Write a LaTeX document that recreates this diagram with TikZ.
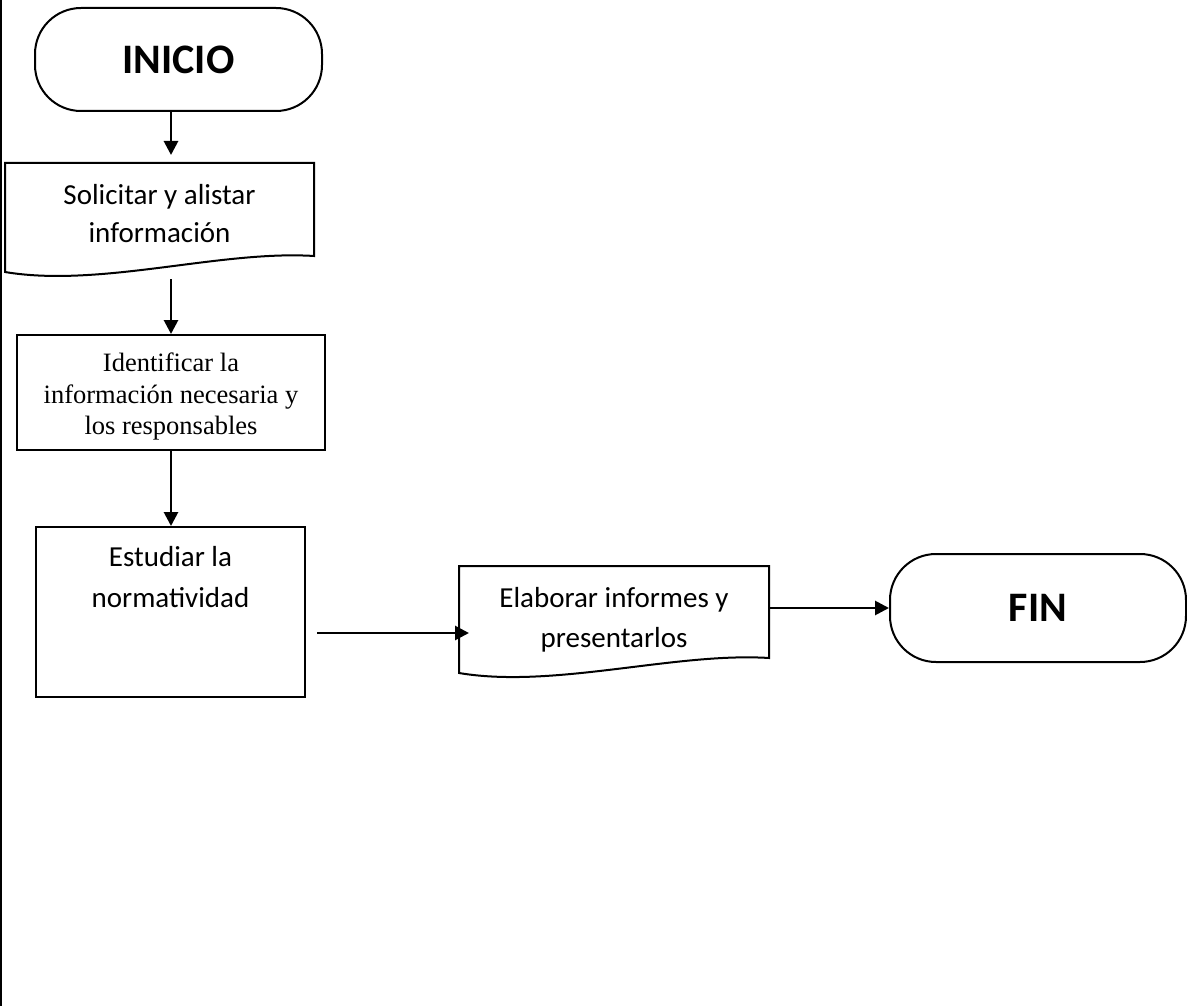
\documentclass[tikz,border=0pt]{standalone}
\usepackage{fontspec}
\setmainfont{Carlito}
\newfontfamily\romana{Liberation Serif}
\usetikzlibrary{positioning,arrows.meta}

\begin{document}
\begin{tikzpicture}[x=1pt,y=-1pt,
    caja/.style={draw,line width=2pt,align=center,font=\fontsize{29}{38}\selectfont},
    terminal/.style={caja,rounded corners=46pt,font=\fontsize{42}{48}\selectfont\bfseries},
    flecha/.style={-{Triangle[length=14pt,width=14pt]},line width=2.8pt}]
    \useasboundingbox (0,0) rectangle (1187,1006);
    \draw[line width=2.5pt] (1,0) -- (1,1006);

    \node[terminal,minimum width=287pt,minimum height=103pt] (inicio) at (178.5,59.5) {INICIO};
    \node[caja,draw=none,minimum width=309pt,minimum height=116pt] (solicitar) at (159.5,214) {Solicitar y alistar\\información};
    \draw[line width=2pt] (5,272) -- (5,163) -- (314,163) -- (314,256)
        .. controls (220,250) and (100,288) .. (5,272) -- cycle;
    \node[caja,minimum width=308pt,minimum height=115pt] (identificar) at (171,392.5) {\parbox[c][105pt][c]{300pt}{\centering\fontsize{26.5}{31.5}\romana\selectfont\vspace*{8pt}Identificar la\\información necesaria y\\los responsables}};
    \node[caja,minimum width=269pt,minimum height=170pt] (estudiar) at (170.5,612) {\parbox[c][150pt][t]{250pt}{\centering\fontsize{29}{41}\selectfont\vspace*{9pt}Estudiar la\\normatividad}};
    \node[caja,draw=none,minimum width=310pt,minimum height=107pt,font=\fontsize{29}{40}\selectfont] (elaborar) at (614,619.5) {Elaborar informes y\\presentarlos};
    \draw[line width=2pt] (459,673) -- (459,566) -- (769,566) -- (769,658)
        .. controls (675,652) and (554,689) .. (459,673) -- cycle;
    \node[terminal,minimum width=296pt,minimum height=108pt] (fin) at (1038,608) {FIN};

    \draw[flecha] ([xshift=-7.5pt]inicio.south) -- ([xshift=-7.5pt]inicio.south |- solicitar.north);
    \draw[flecha] ([yshift=-6pt]solicitar.south -| identificar.north) -- (identificar.north);
    \draw[flecha] (identificar.south) -- (identificar.south |- estudiar.north);
    \draw[flecha] ([xshift=11pt,yshift=-21pt]estudiar.east) -- ([xshift=11pt,yshift=-21pt]estudiar.east -| elaborar.west);
    \draw[flecha] (elaborar.east |- fin.west) -- (fin.west);
\end{tikzpicture}
\end{document}
